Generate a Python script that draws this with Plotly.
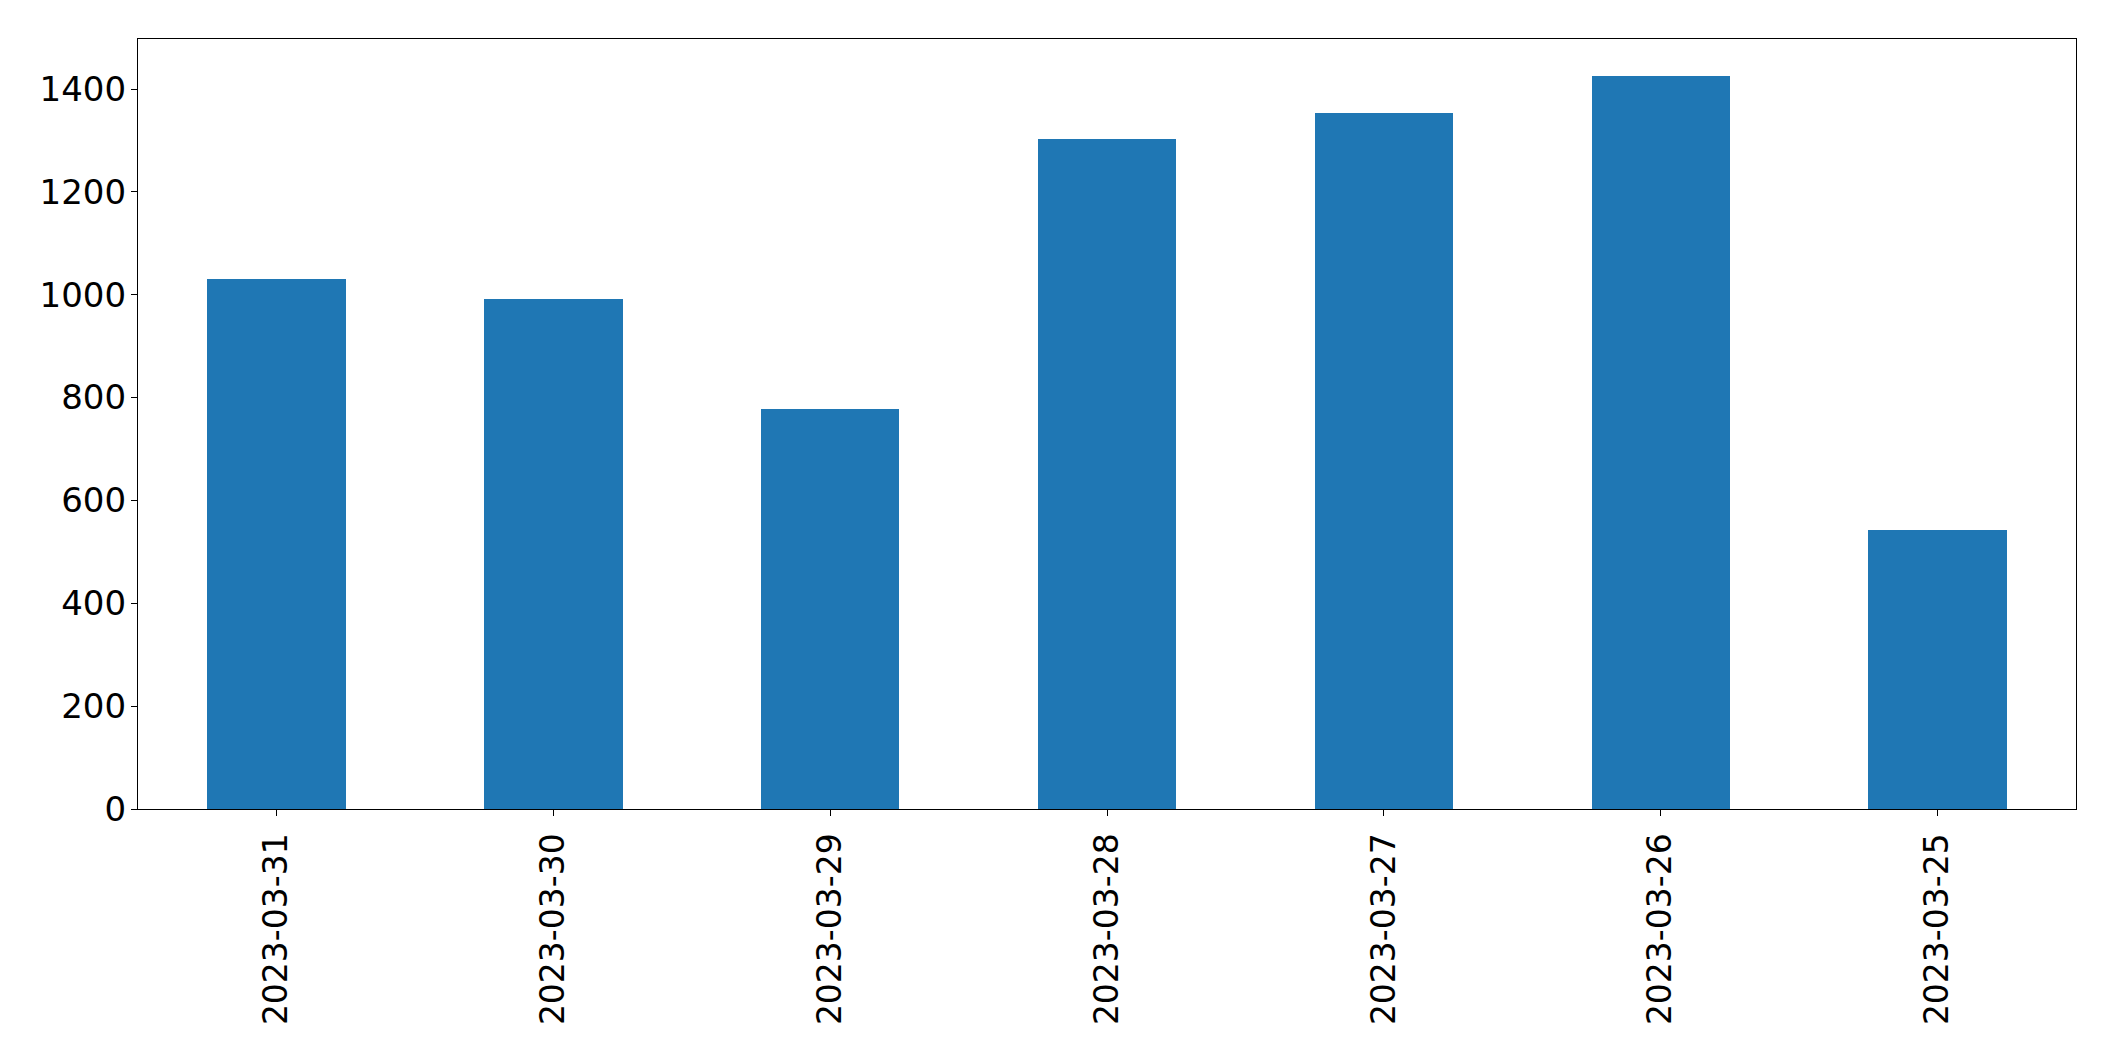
import plotly.graph_objects as go

dates = ["2023-03-31", "2023-03-30", "2023-03-29", "2023-03-28", "2023-03-27", "2023-03-26", "2023-03-25"]
counts = [1031, 992, 777, 1303, 1354, 1426, 543]
y_ticks = [0, 200, 400, 600, 800, 1000, 1200, 1400]

# page body has an 8px margin; size the figure to fit the window
W, H = 2107, 1053
fig = go.Figure(go.Bar(x=dates, y=counts, width=0.5, marker=dict(color="#1f77b4", line=dict(width=0))))

fig.update_layout(
    width=W, height=H,
    margin=dict(l=130, r=39, t=31, b=252, pad=0),
    paper_bgcolor="white", plot_bgcolor="white",
    font=dict(family="DejaVu Sans", size=34, color="black"),
    showlegend=False, bargap=0,
)
fig.update_xaxes(
    type="category", range=[-0.5, len(dates) - 0.5],
    tickangle=-90, ticks="outside", ticklen=6, tickwidth=1.3, tickcolor="black",
    ticklabelstandoff=4,
    showline=True, linecolor="black", linewidth=1.3, mirror=True,
    showgrid=False, zeroline=False, tickfont=dict(size=33),
)
fig.update_yaxes(
    range=[0, max(counts) * 1.05], tickvals=y_ticks, ticktext=[str(v) for v in y_ticks],
    ticks="outside", ticklen=6, tickwidth=1.3, tickcolor="black",
    ticklabelstandoff=-2,
    showline=True, linecolor="black", linewidth=1.3, mirror=True,
    showgrid=False, zeroline=False, tickfont=dict(size=34),
)
fig.write_html("out.html")
